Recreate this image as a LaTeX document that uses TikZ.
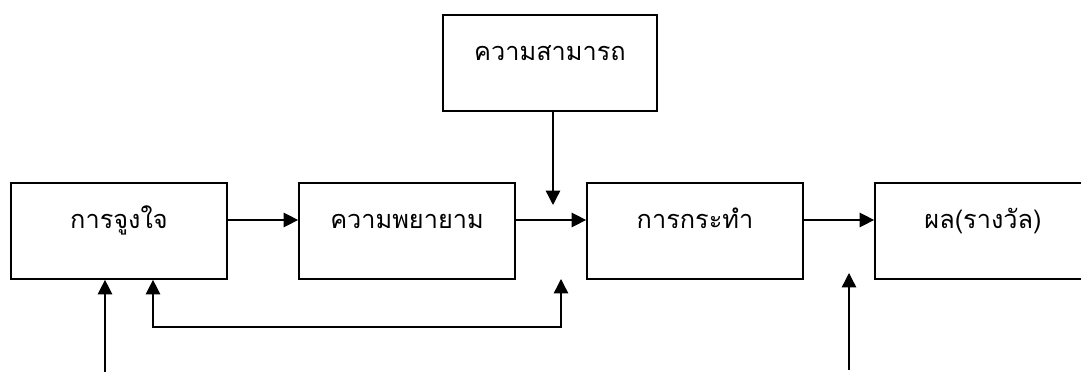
\documentclass[tikz,border=0pt]{standalone}
\usepackage{fontspec}
\newfontfamily\thaifont[Script=Thai]{Loma}
\usetikzlibrary{arrows.meta}

\begin{document}
\begin{tikzpicture}[x=0.025cm,y=-0.025cm,
    box/.style={draw,line width=1.2pt,minimum width=5.4cm,minimum height=2.4cm,
      inner sep=0pt,text height=0.5cm,text depth=0.6cm,font=\thaifont\fontsize{18}{20}\selectfont},
    flow/.style={-{Triangle[length=0.36cm,width=0.36cm]},line width=1pt},
    twoway/.style={{Triangle[length=0.36cm,width=0.36cm]}-{Triangle[length=0.36cm,width=0.36cm]},line width=1pt}]
  \useasboundingbox (0,0) rectangle (1081,372);
  \node[box] (motiv) at (119,231) {การจูงใจ};
  \node[box] (effort) at (407,231) {ความพยายาม};
  \node[box,minimum width=5.35cm] (ability) at (550,63) {ความสามารถ};
  \node[box] (act) at (695,231) {การกระทำ};
  \node[box] (reward) at (983,231) {ผล(รางวัล)};

  \coordinate (abil-in) at (553,205);
  \coordinate (fb-end) at (561,279);
  \coordinate (in-left) at (105,372);
  \coordinate (in-right) at (849,370);
  \coordinate (in-right-tip) at (849,273);

  \draw[flow] (motiv.east |- 0,220) -- (effort.west |- 0,220);
  \draw[flow] (effort.east |- 0,220) -- (act.west |- 0,220);
  \draw[flow] (act.east |- 0,220) -- (reward.west |- 0,220);
  \draw[flow] (ability.south -| abil-in) -- (abil-in);
  \draw[twoway] (motiv.south -| 153,0) -- (153,327) -- (561,327) -- (fb-end);
  \draw[flow] (in-left) -- (in-left |- motiv.south);
  \draw[flow] (in-right) -- (in-right-tip);
\end{tikzpicture}
\end{document}
